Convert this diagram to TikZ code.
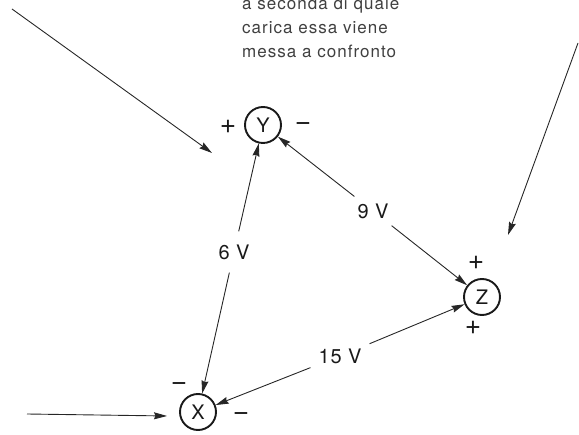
\documentclass[tikz,border=0pt]{standalone}
\usepackage{fontspec}
\setmainfont{TeX Gyre Heros}
\newfontfamily\notefont[LetterSpace=6]{TeX Gyre Heros}
\newfontfamily\labfont[LetterSpace=4]{TeX Gyre Heros}
\usetikzlibrary{arrows.meta}
\tikzset{
  circ/.style={circle, draw=black!90, line width=1.9pt, minimum size=36pt, inner sep=0pt,
    font=\fontsize{20}{20}\selectfont, text=black!90},
  lbl/.style={font=\labfont\fontsize{20}{20}\selectfont, text=black!90},
  sign/.style={font=\fontsize{28}{28}\selectfont, text=black!90, inner sep=0pt},
  arr/.style={draw=black!85, line width=0.9pt, -{Stealth[length=13pt,width=7pt,inset=1.5pt]}},
  note/.style={font=\notefont\fontsize{17}{17}\selectfont, text=black!75, anchor=base west, inner sep=0pt}
}
\begin{document}
\begin{tikzpicture}[x=1pt,y=-1pt]
\useasboundingbox (0,0) rectangle (579,435);
% text
\node[note] (t1) at (242,10) {a seconda di quale};
\node[note] (t2) at (242,34) {carica essa viene};
\node[note] (t3) at (242,58) {messa a confronto};
% circles
\node[circ] (Y) at (263,125) {Y};
\node[circ] (Z) at (482,297) {Z};
\node[circ] (X) at (198,412) {X};
% signs
\node[sign] (yp) at (228,127) {+};
\node[sign] (ym) at (303,127) {−};
\node[sign] (zp1) at (476,263) {+};
\node[sign] (zp2) at (473,328) {+};
\node[sign] (xm1) at (179,387) {−};
\node[sign] (xm2) at (241,417) {−};
% labels
\node[lbl, inner xsep=3pt, inner ysep=13pt] (l6) at (234,252) {6 V};
\node[lbl, inner xsep=3pt, inner ysep=9pt] (l9) at (373,211) {9 V};
\node[lbl, inner xsep=8pt, inner ysep=6pt] (l15) at (340,356) {15 V};
% connectors
\draw[arr] (l6) -- (Y);
\draw[arr] (l6) -- (X);
\draw[arr] (l9) -- (Y);
\draw[arr] (l9) -- (Z);
\draw[arr] (l15) -- (Z);
\draw[arr] (l15) -- (X);
% free arrows
\coordinate (a1s) at (12,9);
\coordinate (a1e) at (212,153);
\coordinate (a2s) at (578,43);
\coordinate (a2e) at (508,235);
\coordinate (a3s) at (27,414);
\coordinate (a3e) at (167,416);
\draw[arr] (a1s) -- (a1e);
\draw[arr] (a2s) -- (a2e);
\draw[arr] (a3s) -- (a3e);
\end{tikzpicture}
\end{document}
